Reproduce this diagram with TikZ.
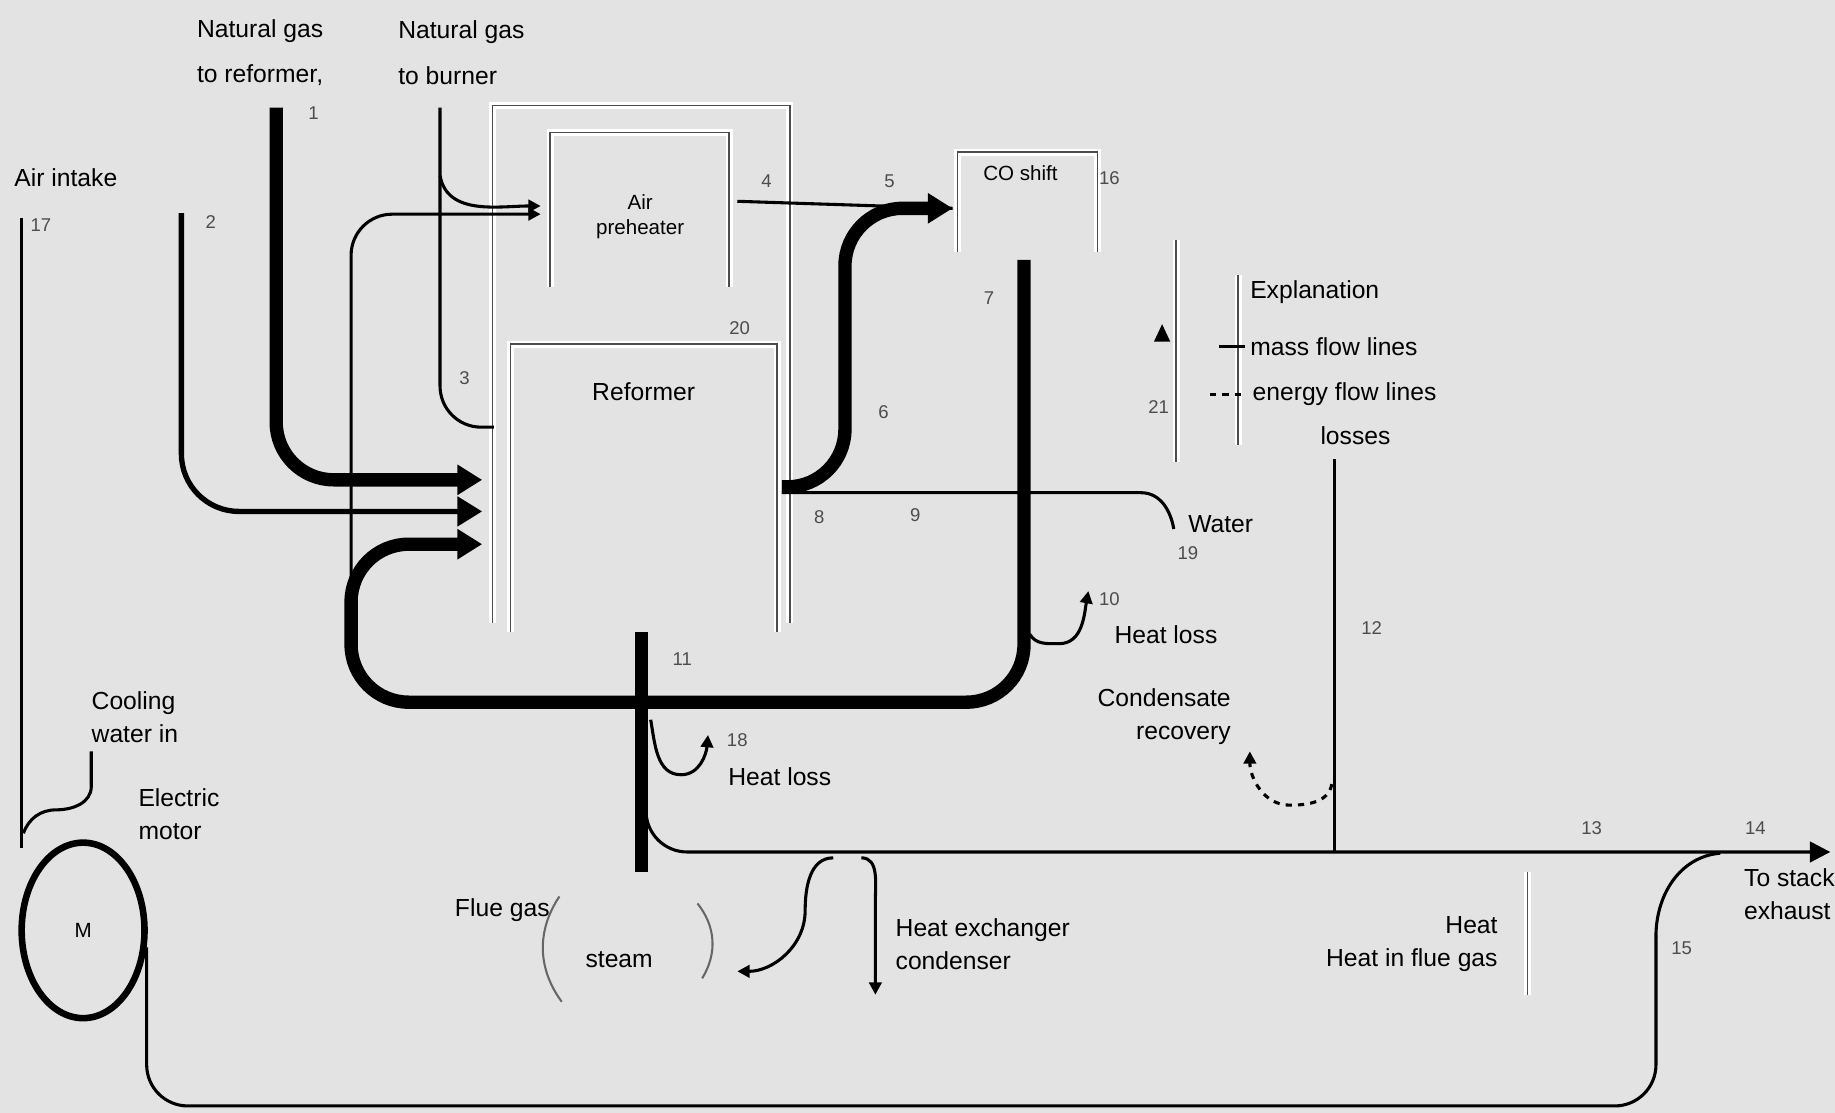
\documentclass[tikz,border=0pt]{standalone}
\usepackage{fontspec}
\setmainfont{Liberation Sans}
\usetikzlibrary{arrows.meta,shapes.geometric}
\definecolor{bgray}{RGB}{227,227,227}
% open box: bottom left, top right
\newcommand{\obox}[2]{%
  \draw[line width=3.4pt,white] (#1) -- (#1 |- #2) -- (#2) -- (#2 |- #1);%
  \draw[line width=0.7pt,black!70] (#1) -- (#1 |- #2) -- (#2) -- (#2 |- #1);}
\newcommand{\wseg}[2]{%
  \draw[line width=3.4pt,white] (#1) -- (#2);%
  \draw[line width=0.7pt,black!70] (#1) -- (#2);}

\begin{document}
\begin{tikzpicture}[x=0.02cm,y=-0.02cm,
  heavy/.style={line width=6.5pt,rounded corners=28pt},
  medium/.style={line width=2.6pt,rounded corners=28pt},
  thin/.style={line width=1.5pt},
  rcorner/.style={rounded corners=20pt},
  bigarrow/.style={-{Triangle[length=12pt,width=14pt]}},
  smallarrow/.style={-{Triangle[length=6pt,width=6pt]}},
  lbl/.style={font=\large,anchor=west,inner sep=0pt,align=left},
  num/.style={font=\small,inner sep=1pt,text=black!70}]
  \useasboundingbox (0,0) rectangle (1568,951);
  \fill[bgray] (0,0) rectangle (1568,951);

  % sources
  \coordinate (ngA) at (236,92);
  \coordinate (ngB) at (376,92);
  \coordinate (brB) at (376,150);
  \coordinate (air) at (155,182);
  \coordinate (cw)  at (18,186);
  % reformer inlets
  \coordinate (rin0) at (422,365);
  \coordinate (rin1) at (412,410);
  \coordinate (rin2) at (412,437);
  \coordinate (rin3) at (412,465);
  % boxes
  \coordinate (frsw) at (421,532); \coordinate (frne) at (675,90);
  \coordinate (b1sw) at (470,245); \coordinate (b1ne) at (623,113);
  \coordinate (b2sw) at (436,540); \coordinate (b2ne) at (664,294);
  \coordinate (b3sw) at (818,215); \coordinate (b3ne) at (938,130);
  % ports
  \coordinate (pin)  at (462,183);
  \coordinate (pin2) at (462,176);
  \coordinate (pout) at (630,172);
  \coordinate (sin)  at (814,178);
  \coordinate (stop) at (875,222);
  \coordinate (rout) at (668,416);
  \coordinate (rout2) at (668,421);
  \coordinate (wat)  at (1003,452);
  \coordinate (sv1)  at (548,540);
  \coordinate (sv2)  at (548,745);
  \coordinate (mj)   at (552,688);
  \coordinate (mend) at (1564,728);
  \coordinate (vtop) at (1140,392);
  \coordinate (vbot) at (1140,728);
  \coordinate (lowrun) at (1415,945);
  \coordinate (lp2)  at (1470,729);
  \coordinate (cwc)  at (78,642);

  \obox{frsw}{frne}
  \obox{b1sw}{b1ne}
  \obox{b2sw}{b2ne}
  \obox{b3sw}{b3ne}
  \node[font=\normalsize,align=center] (pre) at (547,185) {Air\\preheater};
  \node[font=\large] (ref) at (550,335) {Reformer};
  \node[font=\normalsize] (shift) at (872,148) {CO shift};

  % feeds to the reformer
  \draw[heavy,bigarrow] (ngA) -- (236,410) -- (rin1);
  \draw[thin,rcorner] (ngB) -- (376,365) -- (rin0);
  \draw[thin,smallarrow] (brB) to[out=-80,in=180] (pin2);
  \draw[medium,bigarrow] (air) -- (155,437) -- (rin2);
  % recycle loop
  \draw[heavy,bigarrow] (stop) -- (875,600) -- (300,600) -- (300,465) -- (rin3);
  \draw[thin,rcorner,smallarrow] (300,540) -- (300,183) -- (pin);
  % reformer outlet to shift
  \draw[thin] (pout) -- (sin);
  \draw[heavy,bigarrow] (rout) -- (722,416) -- (722,178) -- (sin);
  \draw[thin] (rout2) -- (975,421) to[out=0,in=100] (wat);
  % exhaust duct and main line
  \draw[heavy] (sv1) -- (sv2);
  \draw[thin,rcorner,-{Triangle[length=10pt,width=10pt]}] (mj) -- (552,728) -- (mend);
  \draw[thin,smallarrow] (556,615) to[out=-80,in=180] (582,662) to[out=0,in=-95] (605,628);
  \draw[thin,smallarrow] (880,542) to[out=-60,in=180] (905,550) to[out=0,in=-100] (930,505);
  % condensate branches
  \draw[thin,smallarrow] (712,733) to[out=180,in=90] (688,778) to[out=-90,in=0] (630,830);
  \draw[thin,smallarrow] (736,733) to[out=0,in=90] (748,770) -- (748,850);
  \draw[thin] (vtop) -- (vbot);
  \draw[thin,dashed,smallarrow] (1138,670) to[out=-100,in=0] (1102,688) to[out=180,in=-90] (1068,642);
  % cooling water loop
  \draw[thin] (cw) -- (18,725);
  \node[draw,ellipse,line width=3.2pt,minimum width=2.1cm,minimum height=3cm,
        font=\normalsize] (pump) at (71,795) {M};
  \draw[thin,rcorner] (pump.-15) |- (lowrun) -- (1415,800);
  \draw[thin] (1415,800) to[out=90,in=185] (lp2);
  \draw[thin] (cwc) -- (78,672) to[out=-90,in=0] (48,692) to[out=180,in=70] (20,712);
  % bracket round the flue gas text
  \draw[line width=1pt,black!60] (478,766) to[bend right=35] (480,856);
  \draw[line width=1pt,black!60] (596,772) to[bend left=35] (600,836);

  % legend
  \wseg{1005,205}{1005,395}
  \wseg{1058,235}{1058,380}
  \wseg{1305,745}{1305,850}
  \fill (993,277) -- (1000,292) -- (986,292) -- cycle;
  \draw[thin] (1042,296) -- (1064,296);
  \draw[thin,dashed] (1034,337) -- (1064,337);
  \node[lbl] (leg)  at (1068,250) {Explanation};
  \node[lbl] (legm) at (1068,296) {mass flow lines};
  \node[lbl] (lege) at (1070,337) {energy flow lines};
  \node[lbl] (legl) at (1128,372) {losses};

  % labels
  \node[lbl] (lngA) at (168,45) {Natural gas\\[8pt]to reformer,};
  \node[lbl] (lngB) at (340,45) {Natural gas\\[8pt]to burner};
  \node[lbl] (lair) at (12,152) {Air intake};
  \node[lbl] (lwat) at (1015,448) {Water};
  \node[lbl,align=right,anchor=east] (lcon) at (1052,612) {Condensate\\[2pt]recovery};
  \node[lbl] (lcw)  at (78,613) {Cooling\\[2pt]water in};
  \node[lbl] (lmot) at (118,696) {Electric\\[2pt]motor};
  \node[lbl,anchor=east] (lflue) at (470,778) {Flue gas};
  \node[lbl] (lst)  at (500,820) {steam};
  \node[lbl] (lhx)  at (765,807) {Heat exchanger\\[2pt]condenser};
  \node[lbl,align=right,anchor=east] (lhf) at (1280,807) {Heat\\[2pt]Heat in flue gas};
  \node[lbl] (lex)  at (1490,764) {To stack\\[2pt]exhaust};
  \node[lbl] (lls1) at (622,664) {Heat loss};
  \node[lbl] (lls2) at (952,542) {Heat loss};

  % stream numbers
  \node[num] (n1)  at (268,97)  {1};
  \node[num] (n2)  at (180,190) {2};
  \node[num] (n3)  at (397,323) {3};
  \node[num] (n4)  at (655,155) {4};
  \node[num] (n5)  at (760,155) {5};
  \node[num] (n6)  at (755,352) {6};
  \node[num] (n7)  at (845,255) {7};
  \node[num] (n8)  at (700,442) {8};
  \node[num] (n9)  at (782,440) {9};
  \node[num] (n10) at (948,512) {10};
  \node[num] (n11) at (583,563) {11};
  \node[num] (n12) at (1172,537) {12};
  \node[num] (n13) at (1360,708) {13};
  \node[num] (n14) at (1500,708) {14};
  \node[num] (n15) at (1437,810) {15};
  \node[num] (n16) at (948,152) {16};
  \node[num] (n17) at (35,192)  {17};
  \node[num] (n18) at (630,632) {18};
  \node[num] (n19) at (1015,473) {19};
  \node[num] (n20) at (632,280) {20};
  \node[num] (n21) at (990,348) {21};
\end{tikzpicture}
\end{document}
